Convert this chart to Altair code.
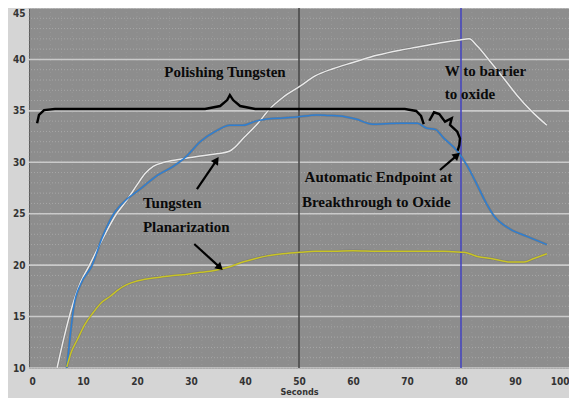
import altair as alt
import pandas as pd

# ---- series (Seconds, value) ----
white_x = [5.2, 6.5, 8.0, 9.6, 11.2, 13.1, 16.1, 18.1, 20.0, 21.5, 23.0, 25.0, 28.0, 31.7, 34.5, 37.2,
           40.0, 42.4, 44.6, 47.0, 50.2, 53.0, 56.3, 60.0, 64.4, 68.7, 72.0, 76.0, 79.8, 81.5,
           83.0, 85.4, 88.0, 90.4, 93.0, 95.9]
white_y = [10.0, 13.0, 16.0, 18.4, 20.0, 22.0, 24.9, 26.3, 27.8, 28.9, 29.6, 30.0, 30.3, 30.6, 30.8, 31.1,
           32.5, 33.8, 35.2, 36.3, 37.4, 38.4, 39.1, 39.7, 40.4, 40.9, 41.2, 41.6, 41.9, 42.0,
           41.3, 39.8, 38.1, 36.5, 35.0, 33.6]

blue_x = [7.0, 7.6, 8.3, 9.6, 11.6, 13.5, 15.6, 18.1, 20.6, 23.7, 26.7, 29.0, 31.7, 34.5, 37.2,
          39.6, 42.0, 44.1, 47.0, 49.6, 53.3, 55.5, 57.6, 60.5, 63.7, 66.0, 68.7, 71.9, 73.7,
          75.2, 76.9, 79.3, 81.1, 82.8, 84.3, 86.1, 89.1, 92.2, 95.9]
blue_y = [10.0, 13.0, 16.0, 18.2, 19.9, 22.6, 24.9, 26.4, 27.4, 28.7, 29.6, 30.5, 32.0, 33.0, 33.6,
          33.6, 34.0, 34.2, 34.3, 34.4, 34.6, 34.55, 34.5, 34.2, 33.7, 33.75, 33.8, 33.8, 33.3,
          33.2, 32.3, 31.1, 29.7, 28.0, 26.4, 24.8, 23.5, 22.8, 22.0]

yellow_x = [7.0, 7.8, 8.9, 10.3, 11.9, 13.3, 15.0, 16.5, 18.1, 20.0, 22.4, 24.5, 26.7, 29.0, 31.7,
            33.5, 35.4, 37.5, 39.6, 42.0, 44.1, 47.0, 50.2, 53.0, 56.3, 60.0, 64.4, 68.7, 72.0,
            76.9, 78.5, 80.6, 83.0, 86.0, 89.1, 91.7, 93.5, 95.9]
yellow_y = [10.1, 11.5, 12.7, 14.2, 15.4, 16.3, 16.95, 17.6, 18.1, 18.45, 18.7, 18.85, 19.0, 19.1, 19.3,
            19.4, 19.6, 19.9, 20.3, 20.65, 20.9, 21.1, 21.25, 21.35, 21.35, 21.4, 21.35, 21.35, 21.35,
            21.35, 21.3, 21.25, 20.85, 20.6, 20.3, 20.3, 20.65, 21.1]

# ---- axis / grid values ----
x_ticks = [0, 10, 20, 30, 40, 50, 60, 70, 80, 90, 100]
y_ticks = [10, 15, 20, 25, 30, 35, 40, 45]
y_minor = list(range(10, 46))
x_minor = list(range(0, 101, 2))
markers_x = [50, 80]
marker_colors = ["#4a4a4a", "#4747bd"]

# ---- annotations ----
big_brace_x = [1.5, 1.85, 2.8, 4.8, 32.6, 35.4, 36.7, 37.2, 37.8, 39.1, 41.9, 69.6, 71.7, 72.6, 73.1]
big_brace_y = [33.8, 34.6, 35.08, 35.18, 35.18, 35.47, 36.05, 36.54, 36.05, 35.47, 35.18, 35.18, 34.99, 34.5, 33.72]
small_brace_x = [74.13, 75.0, 75.98, 77.04, 78.28, 77.96, 79.31, 79.81, 79.69, 79.39]
small_brace_y = [34.04, 34.86, 34.69, 33.95, 34.28, 33.63, 32.97, 32.33, 31.68, 31.13]

arrow_x1 = [31.1, 30.6, 76.1]
arrow_y1 = [27.4, 22.06, 29.25]
arrow_x2 = [34.6, 35.2, 79.1]
arrow_y2 = [30.1, 19.85, 30.6]
arrow_angle = [34, 133, 49]

label_text = ["Polishing Tungsten", "W to barrier", "to oxide", "Automatic Endpoint at",
              "Breakthrough to Oxide", "Tungsten", "Planarization"]
label_x = [36.3, 77.0, 77.0, 64.7, 64.3, 21.1, 21.1]
label_y = [38.8, 38.9, 36.6, 28.55, 26.1, 26.0, 23.7]
label_align = ["center", "left", "left", "center", "center", "left", "left"]

# ---- build tables ----
lines = pd.DataFrame({
    "s": white_x + blue_x + yellow_x,
    "v": white_y + blue_y + yellow_y,
    "series": ["white"] * len(white_x) + ["blue"] * len(blue_x) + ["yellow"] * len(yellow_x),
})
series_dom = ["white", "blue", "yellow"]
series_col = ["#e9e9e9", "#2f7fd2", "#c9c425"]

braces = pd.DataFrame({
    "s": big_brace_x + small_brace_x,
    "v": big_brace_y + small_brace_y,
    "b": ["big"] * len(big_brace_x) + ["small"] * len(small_brace_x),
    "i": list(range(len(big_brace_x))) + list(range(len(small_brace_x))),
})
arrows = pd.DataFrame({"s": arrow_x1, "v": arrow_y1, "s2": arrow_x2, "v2": arrow_y2, "a": arrow_angle})
labels = pd.DataFrame({"t": label_text, "s": label_x, "v": label_y, "al": label_align})

xs = alt.Scale(domain=[0, 100], nice=False, zero=False)
ys = alt.Scale(domain=[10, 45], nice=False, zero=False)

AX_FONT = "Liberation Sans Narrow, DejaVu Sans Condensed, Liberation Sans"
TX_FONT = "Liberation Serif"

ax_x = alt.Axis(values=x_ticks, title="Seconds", grid=False, ticks=False, domain=False,
                labelFont=AX_FONT, labelFontWeight="bold", labelFontSize=10, labelColor="#333333",
                labelPadding=8, titleFont=AX_FONT, titleFontSize=9, titleFontWeight="bold",
                titleColor="#333333", titlePadding=1)
ax_y = alt.Axis(values=y_ticks, title=None, grid=False, ticks=False, domain=False,
                labelFont=AX_FONT, labelFontWeight="bold", labelFontSize=10, labelColor="#333333",
                labelPadding=4,
                labelBaseline={"condition": {"test": "datum.value == 45", "value": "top"}, "value": "middle"})

X = lambda f: alt.X(f, scale=xs, axis=ax_x, title="Seconds")
Y = lambda f: alt.Y(f, scale=ys, axis=ax_y, title=None)

ygrid_minor = alt.Chart(pd.DataFrame({"v": y_minor})).mark_rule(
    color="#ababab", strokeWidth=1, strokeDash=[1, 2], opacity=0.85
).encode(y=Y("v:Q"))
xgrid_minor = alt.Chart(pd.DataFrame({"s": x_minor})).mark_rule(
    color="#a2a2a2", strokeWidth=1, strokeDash=[1, 3], opacity=0.5
).encode(x=X("s:Q"))
ygrid_major = alt.Chart(pd.DataFrame({"v": y_ticks})).mark_rule(
    color="#cacaca", strokeWidth=1.6
).encode(y=Y("v:Q"))

markers = alt.Chart(pd.DataFrame({"s": markers_x, "c": marker_colors})).mark_rule(strokeWidth=1.6).encode(
    x=X("s:Q"),
    color=alt.Color("c:N", scale=None, legend=None),
)

shadow = alt.Chart(lines).mark_line(strokeWidth=2.6, color="#5c5c5c", opacity=0.35, clip=True,
                                    interpolate="monotone").encode(
    x=X("s:Q"), y=Y("v:Q"), detail="series:N",
)
series = alt.Chart(lines).mark_line(strokeWidth=1.5, clip=True, interpolate="monotone").encode(
    x=X("s:Q"), y=Y("v:Q"),
    color=alt.Color("series:N", scale=alt.Scale(domain=series_dom, range=series_col), legend=None),
)

brace_layer = alt.Chart(braces).mark_line(color="black", strokeWidth=2.4, interpolate="linear").encode(
    x=X("s:Q"), y=Y("v:Q"), detail="b:N", order="i:Q",
)

arrow_shaft = alt.Chart(arrows).mark_rule(color="black", strokeWidth=2.2).encode(
    x=X("s:Q"), y=Y("v:Q"), x2="s2:Q", y2="v2:Q",
)
arrow_heads = alt.Chart(arrows).mark_point(shape="triangle", filled=True, color="black", size=75, opacity=1).encode(
    x=X("s2:Q"), y=Y("v2:Q"), angle=alt.Angle("a:Q", scale=None),
)

text_layers = []
for al in ["left", "center"]:
    text_layers.append(
        alt.Chart(labels[labels["al"] == al]).mark_text(
            font=TX_FONT, fontWeight="bold", fontSize=15, color="#0a0a0a", align=al, baseline="middle"
        ).encode(x=X("s:Q"), y=Y("v:Q"), text="t:N")
    )

chart = alt.layer(
    ygrid_minor, xgrid_minor, ygrid_major, markers, shadow, series, brace_layer,
    arrow_shaft, arrow_heads, *text_layers
).properties(
    width=540, height=360,
    autosize=alt.AutoSizeParams(type="none"),
    padding={"left": 21, "top": 0, "right": 0, "bottom": 30},
    background="#d5d5d5",
).configure_view(fill="#8d8d8d", stroke="#5e5e5e", strokeWidth=1)

chart.save("out.html", embed_options={"renderer": "svg", "actions": False})
